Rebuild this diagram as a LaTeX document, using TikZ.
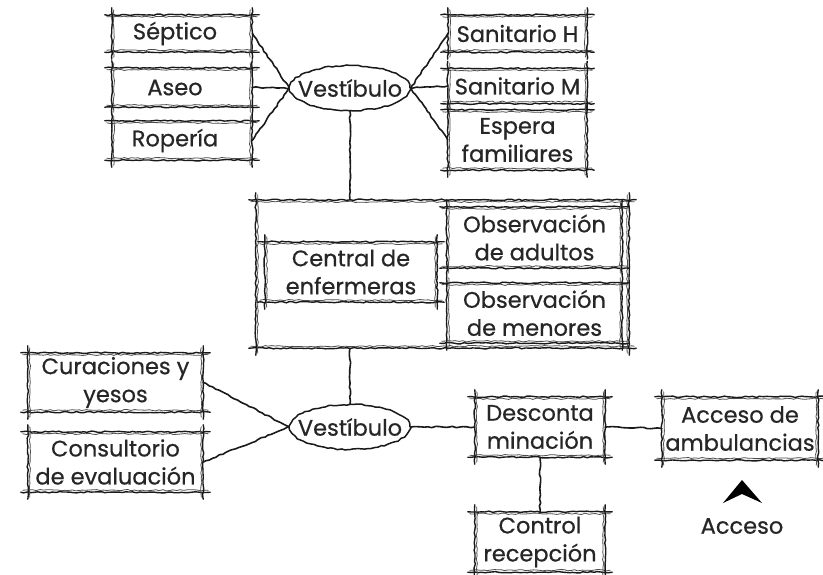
\documentclass[tikz,border=0pt]{standalone}
\usepackage{fontspec}
\setmainfont{Poppins}[RawFeature={embolden=0.6}]
\usetikzlibrary{shapes.geometric,decorations.pathmorphing,calc}
\tikzset{
  sk/.style={draw=black!90, line width=1.4pt, line cap=round, line join=round,
    decorate, decoration={random steps, segment length=3.5pt, amplitude=0.7pt}},
  skthin/.style={sk, line width=0.8pt, draw=black!70},
  conn/.style={sk, line width=1.6pt},
  room/.style={rectangle, inner sep=0pt, align=center, text=black!85, font=\fontsize{22.5}{28}\selectfont},
  hall/.style={ellipse, inner sep=0pt, minimum width=120pt, minimum height=45pt, text=black!85,
    font=\fontsize{22.5}{26}\selectfont, sk, line width=1.5pt},
}
\newcommand\skbox[1]{%
  \draw[sk] ([shift={(-7,0)}]#1.north west) -- ([shift={(7,0)}]#1.north east);
  \draw[skthin] ([shift={(-5,2)}]#1.north west) -- ([shift={(5,2)}]#1.north east);
  \draw[sk] ([shift={(-7,0)}]#1.south west) -- ([shift={(7,0)}]#1.south east);
  \draw[skthin] ([shift={(-5,-2)}]#1.south west) -- ([shift={(5,-2)}]#1.south east);
  \draw[sk] ([shift={(0,-7)}]#1.north west) -- ([shift={(0,7)}]#1.south west);
  \draw[skthin] ([shift={(2,-5)}]#1.north west) -- ([shift={(2,5)}]#1.south west);
  \draw[sk] ([shift={(0,-7)}]#1.north east) -- ([shift={(0,7)}]#1.south east);
  \draw[skthin] ([shift={(-2,-5)}]#1.north east) -- ([shift={(-2,5)}]#1.south east);
}
\begin{document}
\begin{tikzpicture}[x=1pt,y=-1pt]
\pgfmathsetseed{7}
\useasboundingbox (0,0) rectangle (823,575);
\fill[white] (0,0) rectangle (823,575);
% top left rooms
\node[room, minimum width=140pt, minimum height=37pt] (sep) at (182,33.5) {Séptico\hspace{14pt}};
\node[room, minimum width=140pt, minimum height=39pt] (ase) at (182,87.5) {Aseo\hspace{14pt}};
\node[room, minimum width=140pt, minimum height=39pt] (rop) at (182,140.5) {Ropería\hspace{14pt}};
% top hall
\node[hall] (v1) at (350,88) {\makebox[0pt]{Vestíbulo}};
% top right rooms
\node[room, minimum width=139pt, minimum height=37pt] (sanh) at (517.5,33.5) {Sanitario H};
\node[room, minimum width=139pt, minimum height=35pt] (sanm) at (517.5,86) {Sanitario M};
\node[room, minimum width=139pt, minimum height=60pt] (esp) at (517.5,140) {Espera\\familiares};
% observation block
\node[room, minimum width=373pt, minimum height=148pt] (big) at (442.5,274) {};
\node[room, minimum width=172pt, minimum height=60pt] (cen) at (351,272) {Central de\\enfermeras};
\node[room, minimum width=175pt, minimum height=61pt] (oba) at (534.5,237.5) {Observación\\de adultos};
\node[room, minimum width=175pt, minimum height=60pt] (obm) at (534.5,313) {Observación\\de menores};
% lower hall
\node[hall] (v2) at (350,427) {\makebox[0pt]{Vestíbulo}};
\node[room, minimum width=175pt, minimum height=59pt] (cur) at (115.5,382.5) {Curaciones y\\yesos};
\node[room, minimum width=175pt, minimum height=60pt] (con) at (115.5,462) {Consultorio\\de evaluación};
\node[room, minimum width=130pt, minimum height=60pt] (des) at (540,427) {Desconta\\minación};
\node[room, minimum width=156pt, minimum height=63pt] (amb) at (740,428.5) {Acceso de\\ambulancias};
\node[room, minimum width=130pt, minimum height=60pt] (ctl) at (540,542) {Control\\recepción};
\node[room] (acc) at (742,526) {Acceso};
% frames
\foreach \n in {sep,ase,rop,sanh,sanm,esp,big,cen,oba,obm,cur,con,des,amb,ctl} {\skbox{\n}}
% connectors
\draw[conn] (sep.east) -- (v1.west);
\draw[conn] (ase.east) -- (v1.west);
\draw[conn] (rop.east) -- (v1.west);
\draw[conn] (sanh.west) -- (v1.east);
\draw[conn] (sanm.west) -- (v1.east);
\draw[conn] (esp.west) -- (v1.east);
\draw[conn] (v1.south) -- (v1.south |- big.north);
\draw[conn] (v2.north |- big.south) -- (v2.north);
\draw[conn] (cur.east) -- (v2.west);
\draw[conn] (con.east) -- (v2.west);
\draw[conn] (v2.east) -- (des.west);
\draw[conn] (des.east) -- (amb.west);
\draw[conn] (des.south) -- (ctl.north);
% access chevron
\fill[black] (742,480) -- (762,503) -- (742,494) -- (723,503) -- cycle;
\end{tikzpicture}
\end{document}
